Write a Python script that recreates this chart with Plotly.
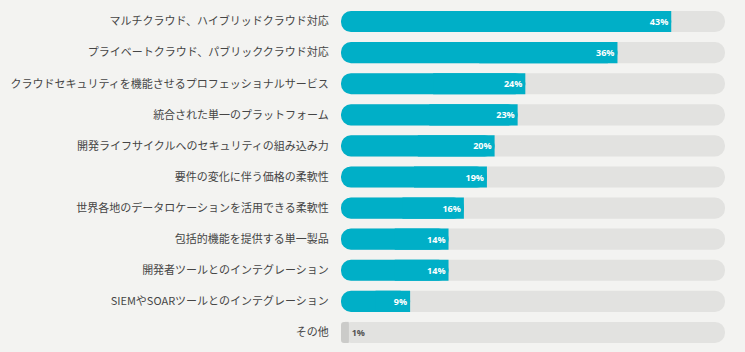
import plotly.graph_objects as go

categories = [
    "マルチクラウド、ハイブリッドクラウド対応",
    "プライベートクラウド、パブリッククラウド対応",
    "クラウドセキュリティを機能させるプロフェッショナルサービス",
    "統合された単一のプラットフォーム",
    "開発ライフサイクルへのセキュリティの組み込み力",
    "要件の変化に伴う価格の柔軟性",
    "世界各地のデータロケーションを活用できる柔軟性",
    "包括的機能を提供する単一製品",
    "開発者ツールとのインテグレーション",
    "SIEMやSOARツールとのインテグレーション",
    "その他",
]
values = [43, 36, 24, 23, 20, 19, 16, 14, 14, 9, 1]
track_max = 50

TEAL = "#00afc7"
TRACK = "#e2e2e0"
SMALL = "#cbcbc9"
BG = "#f3f3f1"

bar_colors = [TEAL if v > 2 else SMALL for v in values]
text_pos = ["inside" if v > 2 else "outside" for v in values]
text_col = ["white" if v > 2 else "#555555" for v in values]
labels = [f"{v}%" for v in values]
n = len(categories)
W = 0.68
R = 11

fig = go.Figure()
# background track (fully rounded)
fig.add_trace(go.Bar(
    y=categories, x=[-track_max] * n, base=[track_max] * n,
    orientation="h", marker=dict(color=TRACK, cornerradius=R, line=dict(width=0)),
    width=W, hoverinfo="skip", showlegend=False,
))
# value bar (rounded)
fig.add_trace(go.Bar(
    y=categories, x=[-v for v in values], base=values,
    orientation="h", marker=dict(color=bar_colors, cornerradius=R, line=dict(width=0)),
    width=W, hoverinfo="skip", showlegend=False,
))
# square off the right end of the value bar
fig.add_trace(go.Bar(
    y=categories, x=[v / 2 for v in values], base=[v / 2 for v in values],
    orientation="h", marker=dict(color=bar_colors, line=dict(width=0)),
    width=W, hoverinfo="skip", showlegend=False,
))
# transparent bar carrying the value labels
fig.add_trace(go.Bar(
    y=categories, x=values, orientation="h",
    marker=dict(color="rgba(0,0,0,0)", line=dict(width=0)),
    width=W, showlegend=False, hoverinfo="skip",
    text=labels, textposition=text_pos, insidetextanchor="end",
    textfont=dict(color=text_col, size=9, family="Open Sans, Arial", weight="bold"),
    cliponaxis=False, constraintext="none",
))

fig.update_layout(
    barmode="overlay",
    width=745, height=352,
    margin=dict(l=341, r=20, t=6, b=4, autoexpand=False),
    paper_bgcolor=BG, plot_bgcolor=BG,
    font=dict(family="Noto Sans CJK JP", size=11, color="#454545"),
    xaxis=dict(range=[0, track_max], visible=False, fixedrange=True),
    yaxis=dict(autorange="reversed", showgrid=False, zeroline=False, showline=False,
               automargin=False,
               ticks="outside", ticklen=9, tickcolor="rgba(0,0,0,0)",
               tickfont=dict(size=11, color="#454545")),
)

fig.write_html("out.html")
